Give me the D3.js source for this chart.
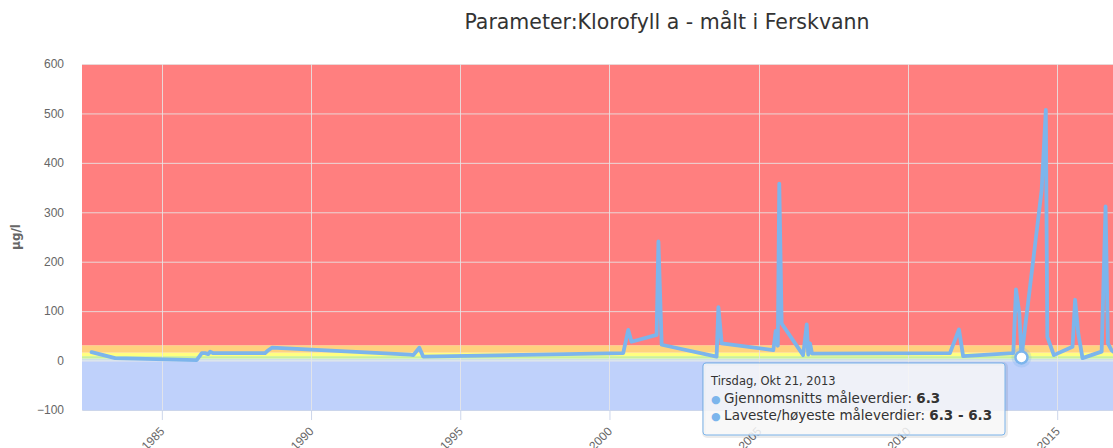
<!DOCTYPE html>
<html>
<head>
<meta charset="utf-8">
<script src="https://cdn.jsdelivr.net/npm/d3@7"></script>
<style>
  body { margin: 0; background: #fff; }
  svg { font-family: "DejaVu Sans", sans-serif; display: block; }
</style>
</head>
<body>
<div id="graphic"></div>
<script>
const chartWidth = 1113
const chartHeight = 448
const margin = { top: 64, right: 0, bottom: 38, left: 82 }
const width = chartWidth - margin.left - margin.right
const height = chartHeight - margin.top - margin.bottom

// measurement dates and values (µg/l)
const dates = [
    "1982-08-25", "1983-06-10", "1986-03-03", "1986-05-05", "1986-06-14", "1986-07-24",
    "1986-08-15", "1986-09-24", "1988-06-18", "1988-07-27", "1988-09-09", "1993-04-27",
    "1993-06-06", "1993-08-18", "1993-10-04", "2000-06-17", "2000-08-18", "2000-09-27",
    "2001-07-31", "2001-08-22", "2001-10-01", "2003-08-04", "2003-08-26", "2003-10-05",
    "2005-06-28", "2005-07-27", "2005-08-22", "2005-09-09", "2005-10-08", "2006-06-28",
    "2006-08-11", "2006-08-29", "2006-09-20", "2006-10-15", "2011-05-30", "2011-09-17",
    "2011-11-07", "2013-07-13", "2013-08-15", "2013-09-24", "2013-10-21", "2014-06-25",
    "2014-08-15", "2014-09-02", "2014-11-21", "2015-07-08", "2015-08-08", "2015-09-16",
    "2015-11-07", "2016-06-28", "2016-08-15", "2016-09-13", "2016-10-27", "2017-01-20"
]
const values = [
    17, 5, 1, 15, 15, 13,
    18, 15, 15, 21, 26, 12,
    11, 26, 8, 15, 62, 38,
    52, 241, 32, 8, 108, 35,
    21, 60, 30, 358, 75, 11,
    73, 12, 35, 14, 15, 63,
    9, 15, 144, 96, 6.3, 345,
    507, 48, 11, 28, 123, 55,
    5, 18, 312, 35, 21, 10
]

// class limits (plot bands)
const bandFrom = [-100, 0, 4, 9, 16, 31]
const bandTo = [0, 4, 9, 16, 31, 600]
const bandColors = ["#bfd1fb", "#cde0e6", "#c9f19a", "#ffff80", "#ffd27f", "#ff7f7f"]

const yTicks = [-100, 0, 100, 200, 300, 400, 500, 600]
const xTickYears = [1985, 1990, 1995, 2000, 2005, 2010, 2015]

const hoverIndex = 40
const tooltipTitle = "Tirsdag, Okt 21, 2013"
const tooltipRows = [
    ["Gjennomsnitts måleverdier: ", "6.3"],
    ["Laveste/høyeste måleverdier: ", "6.3 - 6.3"]
]

const parse = d3.timeParse("%Y-%m-%d")
const data = dates.map((d, i) => ({ date: parse(d), value: values[i] }))

let x = d3.scaleTime()
    .domain([new Date(1982, 3, 30), new Date(2016, 10, 14)])
    .range([0, width])

let y = d3.scaleLinear()
    .domain([-100, 600])
    .range([height, 0])

let root = d3.select("#graphic").append("svg")
    .attr("width", chartWidth)
    .attr("height", chartHeight)

root.append("text")
    .attr("x", 667)
    .attr("y", 29)
    .attr("text-anchor", "middle")
    .attr("fill", "#333")
    .style("font-size", "20.5px")
    .text("Parameter:Klorofyll a - målt i Ferskvann")

let svg = root.append("g")
    .attr("transform", "translate(" + margin.left + "," + margin.top + ")")

svg.append("clipPath").attr("id", "plotclip")
    .append("rect")
    .attr("x", 0).attr("y", -10)
    .attr("width", width).attr("height", height + 10)

// plot bands
svg.selectAll(null)
    .data(bandFrom)
    .enter().append("rect")
    .attr("x", 0)
    .attr("width", width)
    .attr("y", (d, i) => y(bandTo[i]))
    .attr("height", (d, i) => y(d) - y(bandTo[i]))
    .attr("fill", (d, i) => bandColors[i])

// grid lines
svg.selectAll(null)
    .data(yTicks)
    .enter().append("line")
    .attr("x1", 0).attr("x2", width)
    .attr("y1", d => y(d) + 0.5).attr("y2", d => y(d) + 0.5)
    .attr("stroke", "#e6e6e6")
    .attr("stroke-opacity", 0.85)

svg.selectAll(null)
    .data(xTickYears)
    .enter().append("line")
    .attr("x1", d => Math.round(x(new Date(d, 0, 1))) + 0.5)
    .attr("x2", d => Math.round(x(new Date(d, 0, 1))) + 0.5)
    .attr("y1", 0).attr("y2", height)
    .attr("stroke", "#e6e6e6")
    .attr("stroke-opacity", 0.85)

// x axis
let xAxis = d3.axisBottom(x)
    .tickValues(xTickYears.map(d => new Date(d, 0, 1)))
    .tickFormat(d3.timeFormat("%Y"))
    .tickSizeInner(10)
    .tickSizeOuter(0)

let gx = svg.append("g")
    .attr("transform", "translate(0," + height + ")")
    .call(xAxis)
gx.select(".domain").attr("stroke", "#ccd6eb")
gx.selectAll(".tick line").attr("stroke", "#ccd6eb")
gx.selectAll(".tick text")
    .attr("fill", "#666")
    .style("font-size", "12px")
    .attr("text-anchor", "end")
    .attr("dy", null)
    .attr("y", 0)
    .attr("transform", "translate(3,22) rotate(-45)")

// y axis
let yAxis = d3.axisLeft(y)
    .tickValues(yTicks)
    .tickSize(0)
    .tickPadding(18)

let gy = svg.append("g").call(yAxis)
gy.select(".domain").remove()
gy.selectAll(".tick text")
    .attr("fill", "#666")
    .style("font-size", "12px")

root.append("text")
    .attr("transform", "translate(20," + (margin.top + height / 2) + ") rotate(-90)")
    .attr("text-anchor", "middle")
    .attr("fill", "#666")
    .style("font-size", "12px")
    .style("font-weight", "bold")
    .text("µg/l")

// series
let line = d3.line()
    .x(d => x(d.date))
    .y(d => y(d.value))

svg.append("path")
    .datum(data)
    .attr("clip-path", "url(#plotclip)")
    .attr("fill", "none")
    .attr("stroke", "#7cb5ec")
    .attr("stroke-width", 3.8)
    .attr("stroke-linejoin", "round")
    .attr("stroke-linecap", "round")
    .attr("d", line)

// hovered point
let hp = data[hoverIndex]
svg.append("circle")
    .attr("cx", x(hp.date)).attr("cy", y(hp.value))
    .attr("r", 10)
    .attr("fill", "#7cb5ec")
    .attr("fill-opacity", 0.25)
svg.append("circle")
    .attr("cx", x(hp.date)).attr("cy", y(hp.value))
    .attr("r", 6)
    .attr("fill", "#fff")
    .attr("stroke", "#7cb5ec")
    .attr("stroke-width", 2.5)

// tooltip
let tip = root.append("g").attr("transform", "translate(703,363)")
tip.append("rect")
    .attr("x", 1).attr("y", 1)
    .attr("width", 302).attr("height", 72)
    .attr("rx", 3)
    .attr("fill", "none")
    .attr("stroke", "#000")
    .attr("stroke-opacity", 0.08)
    .attr("stroke-width", 4)
tip.append("rect")
    .attr("width", 302).attr("height", 72)
    .attr("rx", 3)
    .attr("fill", "rgba(247,247,247,0.85)")
    .attr("stroke", "#7cb5ec")
    .attr("stroke-width", 1)
tip.append("text")
    .attr("x", 8).attr("y", 22)
    .attr("fill", "#333")
    .style("font-size", "11.5px")
    .text(tooltipTitle)
let rows = tip.selectAll(null)
    .data(tooltipRows)
    .enter().append("text")
    .attr("x", 8)
    .attr("y", (d, i) => 40 + i * 17)
    .attr("fill", "#333")
    .style("font-size", "13.5px")
rows.append("tspan").attr("fill", "#7cb5ec").style("font-size", "11px").text("● ")
rows.append("tspan").text(d => d[0])
rows.append("tspan").style("font-weight", "bold").text(d => d[1])
</script>
</body>
</html>
